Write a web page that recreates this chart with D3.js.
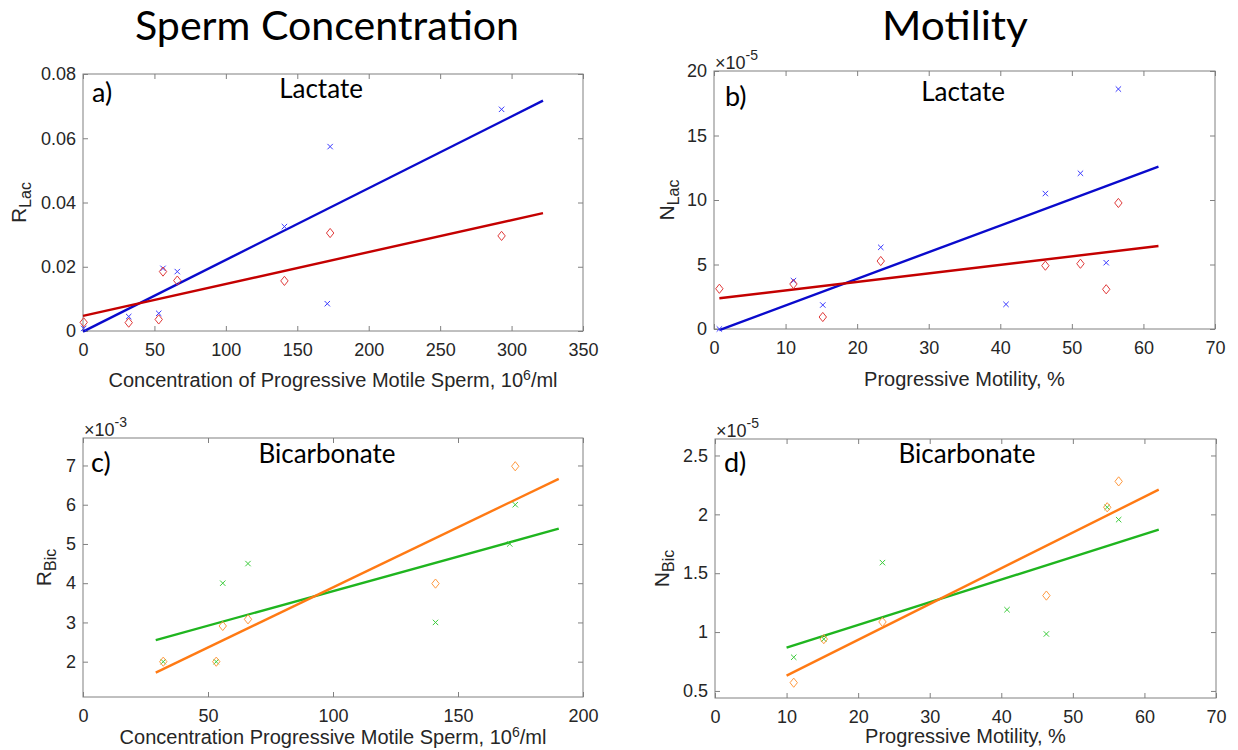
<!DOCTYPE html>
<html>
<head>
<meta charset="utf-8">
<script src="https://cdn.jsdelivr.net/npm/d3@7"></script>
<style>
    body { margin: 0; background: #fff; }
    svg { display: block; }
    .axis text { font-family: "Liberation Sans", Arial, sans-serif; font-size: 18px; fill: #262626; }
    .axis line { stroke: #808080; }
    .label { font-family: "Liberation Sans", Arial, sans-serif; fill: #262626; }
    .heading { font-family: Lato, "Open Sans", sans-serif; fill: #000; }
</style>
</head>
<body>
<div id="chart"></div>
<script>
// a) lactate rate vs sperm concentration
const aCrossX = [0.5, 32, 53, 56, 66, 141, 171, 173, 293];
const aCrossY = [0.0008, 0.0045, 0.0055, 0.0195, 0.0185, 0.0325, 0.0085, 0.0574, 0.069];
const aDiamX = [0.5, 32, 53, 56, 66, 141, 173, 293];
const aDiamY = [0.0027, 0.0026, 0.0036, 0.0185, 0.0157, 0.0156, 0.0305, 0.0296];
const aCrossFit = [[0, -0.0002], [322, 0.0717]];
const aDiamFit = [[0, 0.0047], [322, 0.0367]];
const aXTicks = [0, 50, 100, 150, 200, 250, 300, 350];
const aYTicks = [0, 0.02, 0.04, 0.06, 0.08];

// b) lactate (x1e-5) vs progressive motility
const bCrossX = [0.75, 11.1, 15.2, 23.3, 40.8, 46.3, 51.2, 54.8, 56.5];
const bCrossY = [0, 3.75, 1.86, 6.33, 1.91, 10.5, 12.07, 5.14, 18.6];
const bDiamX = [0.75, 11.1, 15.2, 23.3, 46.3, 51.2, 54.8, 56.5];
const bDiamY = [3.12, 3.49, 0.93, 5.27, 4.91, 5.06, 3.08, 9.77];
const bCrossFit = [[0.75, -0.08], [62.1, 12.58]];
const bDiamFit = [[0.75, 2.38], [62.1, 6.43]];
const bXTicks = [0, 10, 20, 30, 40, 50, 60, 70];
const bYTicks = [0, 5, 10, 15, 20];

// c) bicarbonate rate (x1e-3) vs sperm concentration
const cCrossX = [32.1, 53.3, 55.9, 66, 141, 170.7, 172.9];
const cCrossY = [2.0, 2.0, 4.0, 4.5, 3.0, 5.0, 6.0];
const cDiamX = [32.1, 53.3, 55.9, 66, 141, 172.9];
const cDiamY = [2.0, 2.0, 2.91, 3.08, 3.99, 6.98];
const cCrossFit = [[29.1, 2.55], [190.3, 5.39]];
const cDiamFit = [[29.1, 1.72], [190.3, 6.66]];
const cXTicks = [0, 50, 100, 150, 200];
const cYTicks = [2, 3, 4, 5, 6, 7];

// d) bicarbonate (x1e-5) vs progressive motility
const dCrossX = [11.0, 15.2, 23.4, 40.8, 46.3, 54.8, 56.4];
const dCrossY = [0.786, 0.94, 1.59, 1.19, 0.984, 2.06, 1.955];
const dDiamX = [11.0, 15.2, 23.4, 46.3, 54.8, 56.4];
const dDiamY = [0.57, 0.94, 1.086, 1.31, 2.06, 2.28];
const dCrossFit = [[10, 0.868], [62, 1.87]];
const dDiamFit = [[10, 0.63], [62, 2.21]];
const dXTicks = [0, 10, 20, 30, 40, 50, 60, 70];
const dYTicks = [0.5, 1, 1.5, 2, 2.5];

const crossPath = 'M-2.7,-2.7L2.7,2.7M-2.7,2.7L2.7,-2.7';
const diamondPath = 'M0,-4.6L3.7,0L0,4.6L-3.7,0Z';

class ScatterPanel {

    constructor(opts) {
        this.svg = opts.svg;
        this.box = opts.box;
        this.xDomain = opts.xDomain;
        this.yDomain = opts.yDomain;
        this.xTicks = opts.xTicks;
        this.yTicks = opts.yTicks;
        this.series = opts.series;
        this.opts = opts;

        this.draw();
    }

    draw() {
        this.plot = this.svg.append('g')
            .attr('transform', `translate(${this.box.left},${this.box.top})`);

        this.createScales();
        this.addAxes();
        this.addLines();
        this.addPoints();
        this.addLabels();
    }

    createScales() {
        this.xScale = d3.scaleLinear()
            .domain(this.xDomain)
            .range([0, this.box.width]);

        this.yScale = d3.scaleLinear()
            .domain(this.yDomain)
            .range([this.box.height, 0]);

        this.line = d3.line()
            .x(d => this.xScale(d[0]))
            .y(d => this.yScale(d[1]));
    }

    addAxes() {
        const w = this.box.width, h = this.box.height;
        const fmt = d3.format('~g');
        const noDomain = g => g.select('.domain').remove();

        this.plot.append('g')
            .attr('class', 'axis')
            .attr('transform', `translate(0,${h})`)
            .call(d3.axisBottom(this.xScale).tickValues(this.xTicks).tickSize(-5)
                .tickSizeOuter(0).tickPadding(12).tickFormat(fmt))
            .call(noDomain);

        this.plot.append('g')
            .attr('class', 'axis')
            .call(d3.axisTop(this.xScale).tickValues(this.xTicks).tickSize(-5)
                .tickSizeOuter(0).tickFormat(''))
            .call(noDomain);

        this.plot.append('g')
            .attr('class', 'axis')
            .call(d3.axisLeft(this.yScale).tickValues(this.yTicks).tickSize(-5)
                .tickSizeOuter(0).tickPadding(7).tickFormat(fmt))
            .call(noDomain);

        this.plot.append('g')
            .attr('class', 'axis')
            .attr('transform', `translate(${w},0)`)
            .call(d3.axisRight(this.yScale).tickValues(this.yTicks).tickSize(-5)
                .tickSizeOuter(0).tickFormat(''))
            .call(noDomain);

        this.plot.append('rect')
            .attr('width', w)
            .attr('height', h)
            .attr('fill', 'none')
            .attr('stroke', '#808080')
            .attr('stroke-width', 1);
    }

    addLines() {
        this.plot.selectAll('.fit')
            .data(this.series)
            .enter()
            .append('path')
            .attr('class', 'fit')
            .attr('d', d => this.line(d.fit))
            .attr('fill', 'none')
            .attr('stroke', d => d.lineColor)
            .attr('stroke-width', 2.4);
    }

    addPoints() {
        this.series.forEach(s => {
            const pts = s.x.map((x, i) => [x, s.y[i]]);
            this.plot.selectAll(null)
                .data(pts)
                .enter()
                .append('path')
                .attr('d', s.marker)
                .attr('transform', d => `translate(${this.xScale(d[0])},${this.yScale(d[1])})`)
                .attr('fill', 'none')
                .attr('stroke', s.markColor)
                .attr('stroke-width', 1);
        });
    }

    addLabels() {
        const o = this.opts, b = this.box;

        // panel letter and heading
        this.svg.append('text')
            .attr('class', 'heading')
            .attr('x', o.tag[0]).attr('y', o.tag[1])
            .style('font-size', '27px')
            .text(o.tagText);

        this.svg.append('text')
            .attr('class', 'heading')
            .attr('x', o.head[0]).attr('y', o.head[1])
            .attr('text-anchor', 'middle')
            .style('font-size', '26px')
            .text(o.headText);

        // x label with superscript
        const xl = this.svg.append('text')
            .attr('class', 'label')
            .attr('x', b.left + b.width / 2).attr('y', o.xLabelY)
            .attr('text-anchor', 'middle')
            .style('font-size', '20px');
        o.xLabel.forEach(p => {
            xl.append('tspan')
                .attr('dy', p.dy || 0)
                .style('font-size', p.sup ? '14px' : null)
                .text(p.t);
        });

        // y label with subscript
        const yl = this.svg.append('text')
            .attr('class', 'label')
            .attr('transform', `translate(${o.yLabelX},${b.top + b.height / 2}) rotate(-90)`)
            .attr('text-anchor', 'middle')
            .style('font-size', '21px');
        yl.append('tspan').text(o.yLabel[0]);
        yl.append('tspan').attr('dy', 5).style('font-size', '16px').text(o.yLabel[1]);

        // exponent multiplier
        if (o.exponent) {
            const ex = this.svg.append('text')
                .attr('class', 'label')
                .attr('x', b.left + 1).attr('y', b.top - 2)
                .style('font-size', '18px');
            ex.append('tspan').text('\u00d710');
            ex.append('tspan').attr('dy', -9).style('font-size', '14px').text(o.exponent);
        }
    }
}

const svg = d3.select('#chart').append('svg')
    .attr('width', 1238)
    .attr('height', 750)
    .attr('viewBox', '0 0 1238 750');

svg.append('rect').attr('width', 1238).attr('height', 750).attr('fill', '#fff');

svg.append('text')
    .attr('class', 'heading')
    .attr('x', 327).attr('y', 40)
    .attr('text-anchor', 'middle')
    .attr('textLength', 384).attr('lengthAdjust', 'spacingAndGlyphs')
    .style('font-size', '40px')
    .text('Sperm Concentration');

svg.append('text')
    .attr('class', 'heading')
    .attr('x', 955).attr('y', 40)
    .attr('text-anchor', 'middle')
    .attr('textLength', 146).attr('lengthAdjust', 'spacingAndGlyphs')
    .style('font-size', '40px')
    .text('Motility');

const blue = { lineColor: '#0a0acc', markColor: '#3a3aff' };
const red = { lineColor: '#c40000', markColor: '#e03a3a' };
const green = { lineColor: '#1fb51f', markColor: '#3ccc3c' };
const orange = { lineColor: '#ff7a14', markColor: '#ff9a40' };

const concLabel = [{ t: 'Concentration of Progressive Motile Sperm, 10' }, { t: '6', sup: true, dy: -7 }, { t: '/ml', dy: 7 }];
const concLabel2 = [{ t: 'Concentration Progressive Motile Sperm, 10' }, { t: '6', sup: true, dy: -7 }, { t: '/ml', dy: 7 }];
const motLabel = [{ t: 'Progressive Motility, %' }];

new ScatterPanel({
    svg, box: { left: 83, top: 74, width: 500, height: 257 },
    xDomain: [0, 350], yDomain: [0, 0.08], xTicks: aXTicks, yTicks: aYTicks,
    series: [
        { ...blue, x: aCrossX, y: aCrossY, fit: aCrossFit, marker: crossPath },
        { ...red, x: aDiamX, y: aDiamY, fit: aDiamFit, marker: diamondPath }
    ],
    tag: [92, 102], tagText: 'a)', head: [321, 98], headText: 'Lactate',
    xLabel: concLabel, xLabelY: 387, yLabel: ['R', 'Lac'], yLabelX: 26
});

new ScatterPanel({
    svg, box: { left: 714, top: 71, width: 501, height: 258 },
    xDomain: [0, 70], yDomain: [0, 20], xTicks: bXTicks, yTicks: bYTicks,
    series: [
        { ...blue, x: bCrossX, y: bCrossY, fit: bCrossFit, marker: crossPath },
        { ...red, x: bDiamX, y: bDiamY, fit: bDiamFit, marker: diamondPath }
    ],
    tag: [725, 106], tagText: 'b)', head: [963, 101], headText: 'Lactate',
    xLabel: motLabel, xLabelY: 386, yLabel: ['N', 'Lac'], yLabelX: 674, exponent: '-5'
});

new ScatterPanel({
    svg, box: { left: 83, top: 438, width: 500, height: 259 },
    xDomain: [0, 200], yDomain: [1.1, 7.7], xTicks: cXTicks, yTicks: cYTicks,
    series: [
        { ...green, x: cCrossX, y: cCrossY, fit: cCrossFit, marker: crossPath },
        { ...orange, x: cDiamX, y: cDiamY, fit: cDiamFit, marker: diamondPath }
    ],
    tag: [91, 472], tagText: 'c)', head: [327, 463], headText: 'Bicarbonate',
    xLabel: concLabel2, xLabelY: 744, yLabel: ['R', 'Bic'], yLabelX: 51, exponent: '-3'
});

new ScatterPanel({
    svg, box: { left: 715, top: 439, width: 501, height: 259 },
    xDomain: [0, 70], yDomain: [0.44, 2.64], xTicks: dXTicks, yTicks: dYTicks,
    series: [
        { ...green, x: dCrossX, y: dCrossY, fit: dCrossFit, marker: crossPath },
        { ...orange, x: dDiamX, y: dDiamY, fit: dDiamFit, marker: diamondPath }
    ],
    tag: [724, 472], tagText: 'd)', head: [967, 463], headText: 'Bicarbonate',
    xLabel: motLabel, xLabelY: 743, yLabel: ['N', 'Bic'], yLabelX: 669, exponent: '-5'
});
</script>
</body>
</html>
